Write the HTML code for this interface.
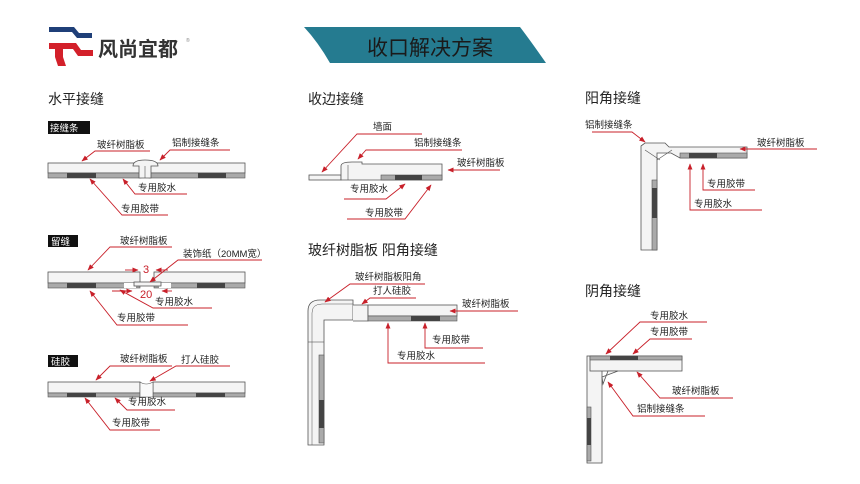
<!DOCTYPE html>
<html><head><meta charset="utf-8"><style>
html,body{margin:0;padding:0;background:#fff}
svg{display:block}
text{font-family:"Liberation Sans","Noto Sans CJK SC",sans-serif;fill:#222}
.l{font-size:9.5px}
.h{font-size:14px}
.r{stroke:#c8202a;stroke-width:0.9;fill:none}
.w{fill:#f4f4f4;stroke:#555;stroke-width:0.8}
.g{fill:#aaa;stroke:#555;stroke-width:0.6}
.d{fill:#444}
</style></head><body>
<svg width="860" height="484" viewBox="0 0 860 484" xmlns="http://www.w3.org/2000/svg">
<defs><marker id="a" viewBox="0 0 10 10" refX="9" refY="5" markerWidth="7" markerHeight="7" orient="auto-start-reverse"><path d="M0,1 L10,5 L0,9 z" fill="#c8202a"/></marker></defs>
<!-- logo -->
<path d="M49,27 H74 L79,33 H92 V38 H77 L72,32 H49 Z" fill="#1f3f78"/>
<path d="M49,43 H76 L81,50 H93 V56 H78 L73,49 H63 V57 L66,66 H58 L55,57 V49 H49 Z" fill="#d3202a"/>
<text x="98" y="56" style="font-size:20px;fill:#333;font-weight:bold">风尚宜都</text>
<text x="186" y="42" style="font-size:5px;fill:#888">®</text>
<!-- banner -->
<path d="M304,27 H520 Q530,40 546,63 H330 Q318,42 304,27 Z" fill="#257b90"/>
<text x="367" y="55" style="font-size:21px;fill:#1a1a1a">收口解决方案</text>
<!-- headings -->
<text x="48" y="104" class="h">水平接缝</text>
<text x="308" y="104" class="h">收边接缝</text>
<text x="585" y="103" class="h">阳角接缝</text>
<text x="308" y="255" class="h">玻纤树脂板 阳角接缝</text>
<text x="585" y="296" class="h">阴角接缝</text>
<!-- tags -->
<rect x="48" y="121" width="42" height="13" fill="#111"/><text x="50" y="131.5" class="l" style="fill:#fff">接缝条</text>
<rect x="48" y="235" width="30" height="12" fill="#111"/><text x="51" y="245" class="l" style="fill:#fff">留缝</text>
<rect x="48" y="355" width="30" height="12" fill="#111"/><text x="51" y="365" class="l" style="fill:#fff">硅胶</text>

<!-- panel 1 -->
<rect x="48" y="163" width="93" height="10" class="w"/><rect x="48" y="173" width="93" height="5" class="g"/>
<rect x="149" y="163" width="96" height="10" class="w"/><rect x="149" y="173" width="96" height="5" class="g"/>
<rect x="67" y="173" width="29" height="5" class="d"/><rect x="198" y="173" width="28" height="5" class="d"/>
<path d="M133,166 Q133,160 145,160 Q158,160 158,166 H151 V178 H139 V166 Z" class="w"/>
<line x1="145" y1="166" x2="145" y2="178" stroke="#555" stroke-width="0.6"/>
<text x="97" y="148" class="l">玻纤树脂板</text><path class="r" d="M150,151 H95 L82,161" marker-end="url(#a)"/>
<text x="172" y="146" class="l">铝制接缝条</text><path class="r" d="M230,150 H170 L160,160" marker-end="url(#a)"/>
<text x="138" y="191" class="l">专用胶水</text><path class="r" d="M187,194 H135 L123,179" marker-end="url(#a)"/>
<text x="121" y="212" class="l">专用胶带</text><path class="r" d="M168,215 H122 L90,179" marker-end="url(#a)"/>

<!-- panel 2 -->
<rect x="48" y="272" width="92" height="11" class="w"/><rect x="48" y="283" width="92" height="5" class="g"/>
<rect x="154" y="272" width="91" height="11" class="w"/><rect x="154" y="283" width="91" height="5" class="g"/>
<rect x="67" y="283" width="29" height="5" class="d"/><rect x="197" y="283" width="28" height="5" class="d"/>
<rect x="124" y="283" width="12" height="5" fill="#fff"/><rect x="159" y="283" width="12" height="5" fill="#fff"/>
<rect x="134" y="282" width="27" height="4" class="w"/>
<text x="143" y="273" style="font-size:11px;fill:#c8202a">3</text>
<path class="r" d="M125,270 H138" marker-end="url(#a)"/><path class="r" d="M168,270 H156" marker-end="url(#a)"/>
<text x="140" y="298" style="font-size:11px;fill:#c8202a">20</text>
<path class="r" d="M112,291 H132" marker-end="url(#a)"/><path class="r" d="M172,291 H162" marker-end="url(#a)"/>
<text x="120" y="244" class="l">玻纤树脂板</text><path class="r" d="M172,247 H110 L88,270" marker-end="url(#a)"/>
<text x="183" y="257" class="l">装饰纸（20MM宽）</text><path class="r" d="M262,260 H178 L150,282" marker-end="url(#a)"/>
<text x="155" y="305" class="l">专用胶水</text><path class="r" d="M212,308 H153 L120,290" marker-end="url(#a)"/>
<text x="117" y="321" class="l">专用胶带</text><path class="r" d="M188,325 H117 L90,291" marker-end="url(#a)"/>

<!-- panel 3 -->
<rect x="48" y="382" width="92" height="11" class="w"/><rect x="48" y="393" width="92" height="4" class="g"/>
<rect x="153" y="382" width="92" height="11" class="w"/><rect x="153" y="393" width="92" height="4" class="g"/>
<rect x="67" y="393" width="29" height="4" class="d"/><rect x="196" y="393" width="29" height="4" class="d"/>
<path d="M140,382 Q146,386 153,382 V397 H140 Z" fill="#fafafa" stroke="#555" stroke-width="0.6"/>
<text x="120" y="362" class="l">玻纤树脂板</text><path class="r" d="M172,366 H110 L96,380" marker-end="url(#a)"/>
<text x="181" y="363" class="l">打人硅胶</text><path class="r" d="M230,366 H176 L150,381" marker-end="url(#a)"/>
<text x="128" y="405" class="l">专用胶水</text><path class="r" d="M175,410 H127 L115,398" marker-end="url(#a)"/>
<text x="112" y="426" class="l">专用胶带</text><path class="r" d="M160,430 H110 L85,398" marker-end="url(#a)"/>

<!-- 收边 -->
<rect x="309" y="175" width="32" height="5" class="w"/>
<path d="M341,180 V166 Q341,162 352,162 H362 V164 H442 V180 Z" class="w"/>
<line x1="348" y1="165" x2="348" y2="180" stroke="#555" stroke-width="0.6"/>
<rect x="381" y="175" width="61" height="5" class="g"/><rect x="395" y="175" width="27" height="5" class="d"/>
<text x="373" y="130" class="l">墙面</text><path class="r" d="M422,134 H357 L322,172" marker-end="url(#a)"/>
<text x="414" y="146" class="l">铝制接缝条</text><path class="r" d="M462,150 H366 L358,159" marker-end="url(#a)"/>
<text x="457" y="166" class="l">玻纤树脂板</text><path class="r" d="M500,170 H448" marker-end="url(#a)"/>
<text x="350" y="192" class="l">专用胶水</text><path class="r" d="M344,199 H386 L405,184" marker-end="url(#a)"/>
<text x="365" y="216" class="l">专用胶带</text><path class="r" d="M347,219 H405 L431,185" marker-end="url(#a)"/>

<!-- 阳角 top right -->
<path d="M641,146 L645,143 H665 L669,147 H747 V158 H680 L671,153 H657 V250 H641 Z" class="w"/>
<path d="M645,150 L660,160 M657,160 L672,150" stroke="#555" stroke-width="0.6" fill="none"/>
<rect x="680" y="153" width="67" height="5" class="g"/><rect x="689" y="153" width="28" height="5" class="d"/>
<rect x="652" y="180" width="5" height="70" class="g"/><rect x="652" y="188" width="5" height="30" class="d"/>
<text x="585" y="128" class="l">铝制接缝条</text><path class="r" d="M592,132 H632 L645,142" marker-end="url(#a)"/>
<text x="757" y="146" class="l">玻纤树脂板</text><path class="r" d="M817,149 H740" marker-end="url(#a)"/>
<text x="707" y="187" class="l">专用胶带</text><path class="r" d="M755,190 H703 V164" marker-end="url(#a)"/>
<text x="694" y="207" class="l">专用胶水</text><path class="r" d="M762,210 H690 V164" marker-end="url(#a)"/>

<!-- 玻纤 阳角 -->
<path d="M308,445 V311 Q308,300 320,300 H353 V320 H324 V445 Z" class="w"/>
<path d="M312,445 V313 Q312,304 322,304 H353" stroke="#555" stroke-width="0.5" fill="none"/>
<path d="M353,305 H368 V321 H353" class="w"/>
<rect x="368" y="305" width="89" height="11" class="w"/><rect x="368" y="316" width="89" height="5" class="g"/>
<rect x="411" y="316" width="29" height="5" class="d"/>
<rect x="319" y="355" width="5" height="88" class="g"/><rect x="319" y="400" width="5" height="28" class="d"/>
<line x1="308" y1="342" x2="324" y2="342" stroke="#555" stroke-width="0.6"/>
<text x="355" y="280" class="l">玻纤树脂板阳角</text><path class="r" d="M425,284 H350 L325,302" marker-end="url(#a)"/>
<text x="373" y="294" class="l">打人硅胶</text><path class="r" d="M416,298 H370 L362,304" marker-end="url(#a)"/>
<text x="462" y="307" class="l">玻纤树脂板</text><path class="r" d="M518,311 H450" marker-end="url(#a)"/>
<text x="432" y="343" class="l">专用胶带</text><path class="r" d="M483,348 H425 V323" marker-end="url(#a)"/>
<text x="397" y="359" class="l">专用胶水</text><path class="r" d="M485,363 H388 V323" marker-end="url(#a)"/>

<!-- 阴角 -->
<rect x="587" y="356" width="15" height="107" class="w"/>
<rect x="587" y="407" width="4" height="54" class="g"/><rect x="587" y="418" width="4" height="27" class="d"/>
<rect x="590" y="356" width="92" height="15" class="w"/>
<rect x="590" y="356" width="92" height="4" class="g"/><rect x="610" y="356" width="28" height="4" class="d"/>
<path d="M603,384 L602,377 L618,371 L608,371 Z" class="w"/>
<text x="650" y="319" class="l">专用胶水</text><path class="r" d="M707,322 H640 L606,354" marker-end="url(#a)"/>
<text x="650" y="335" class="l">专用胶带</text><path class="r" d="M692,339 H650 L633,354" marker-end="url(#a)"/>
<text x="672" y="394" class="l">玻纤树脂板</text><path class="r" d="M733,398 H660 L637,372" marker-end="url(#a)"/>
<text x="637" y="412" class="l">铝制接缝条</text><path class="r" d="M705,416 H633 L608,382" marker-end="url(#a)"/>
</svg>
</body></html>
